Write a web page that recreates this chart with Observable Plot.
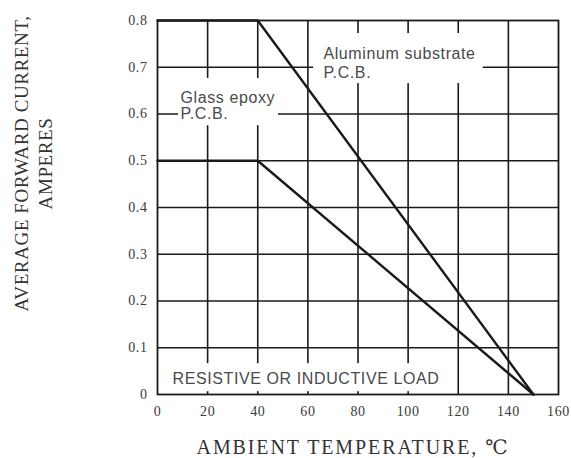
<!DOCTYPE html>
<html>
<head>
<meta charset="utf-8">
<script src="https://cdn.jsdelivr.net/npm/d3@7"></script>
<script src="https://cdn.jsdelivr.net/npm/@observablehq/plot@0.6"></script>
<style>
  html, body { margin: 0; padding: 0; background: #fff; }
  svg text { letter-spacing: 0.6px; }
</style>
</head>
<body>
<div id="chart"></div>
<script>
// ---- data ----
const temps = [0, 40, 150];
const aluminumCurrent = [0.8, 0.8, 0];
const glassCurrent = [0.5, 0.5, 0];

const xTicks = [0, 20, 40, 60, 80, 100, 120, 140, 160];
const yTicks = [0, 0.1, 0.2, 0.3, 0.4, 0.5, 0.6, 0.7, 0.8];
const yTickLabels = ["0", "0.1", "0.2", "0.3", "0.4", "0.5", "0.6", "0.7", "0.8"];

const xTitle = "AMBIENT TEMPERATURE, \u2103";
const yTitle = "AVERAGE FORWARD CURRENT,\nAMPERES";

// annotation lines (data coordinates)
const noteText = ["Glass epoxy", "P.C.B.", "Aluminum substrate", "P.C.B.", "RESISTIVE OR INDUCTIVE LOAD"];
const noteX = [9.2, 9.2, 66.2, 66.2, 6.0];
const noteY = [0.635, 0.601, 0.729, 0.689, 0.034];

// white label backgrounds that break the grid (data coordinates)
const boxX1 = [8.4, 62.3, 3.2];
const boxX2 = [48.3, 130, 113];
const boxY1 = [0.575, 0.665, 0.006];
const boxY2 = [0.676, 0.772, 0.066];

// ---- build ----
const curves = [];
temps.forEach((t, i) => curves.push({series: "Aluminum", t, a: aluminumCurrent[i]}));
temps.forEach((t, i) => curves.push({series: "Glass", t, a: glassCurrent[i]}));
const notes = noteText.map((s, i) => ({s, x: noteX[i], y: noteY[i]}));
const boxes = boxX1.map((v, i) => ({x1: v, x2: boxX2[i], y1: boxY1[i], y2: boxY2[i]}));

const chart = Plot.plot({
  width: 571,
  height: 458,
  marginLeft: 157,
  marginRight: 13,
  marginTop: 20,
  marginBottom: 64,
  style: {fontFamily: "'Liberation Serif', 'DejaVu Serif', serif", fontSize: "14px", color: "#3a3a3a", background: "#fff", overflow: "visible"},
  x: {domain: [0, 160], ticks: xTicks, tickSize: 0, tickPadding: 12, label: null},
  y: {domain: [0, 0.8], ticks: yTicks, tickSize: 0, tickPadding: 10, label: null,
      tickFormat: d => yTickLabels[yTicks.indexOf(d)]},
  marks: [
    Plot.ruleX(xTicks.slice(1, -1), {stroke: "#1a1a1a", strokeWidth: 1.6}),
    Plot.ruleY(yTicks.slice(1, -1), {stroke: "#1a1a1a", strokeWidth: 1.6}),
    Plot.rect(boxes, {x1: "x1", x2: "x2", y1: "y1", y2: "y2", fill: "#fff"}),
    Plot.frame({stroke: "#1a1a1a", strokeWidth: 1.8}),
    Plot.line(curves, {x: "t", y: "a", z: "series", stroke: "#1a1a1a", strokeWidth: 2.4}),
    Plot.text(notes, {x: "x", y: "y", text: "s", textAnchor: "start", lineAnchor: "middle",
      fill: "#4a4a4a", fontSize: 16, fontFamily: "'Liberation Sans', Arial, sans-serif"}),
    Plot.text([yTitle], {text: d => d, frameAnchor: "left", rotate: -90, dx: -125.5, dy: -44,
      lineHeight: 1.3, fill: "#333", fontSize: 19, lineAnchor: "middle", textAnchor: "middle"}),
    Plot.text([xTitle], {text: d => d, frameAnchor: "bottom", dy: 53, dx: -5,
      fill: "#333", fontSize: 20, lineAnchor: "middle", textAnchor: "middle"})
  ]
});
// wider tracking for the x-axis title, as in the reference
chart.querySelectorAll("text").forEach(t => {
  if (t.textContent === xTitle) t.style.letterSpacing = "1.9px";
});
document.getElementById("chart").appendChild(chart);
</script>
</body>
</html>
